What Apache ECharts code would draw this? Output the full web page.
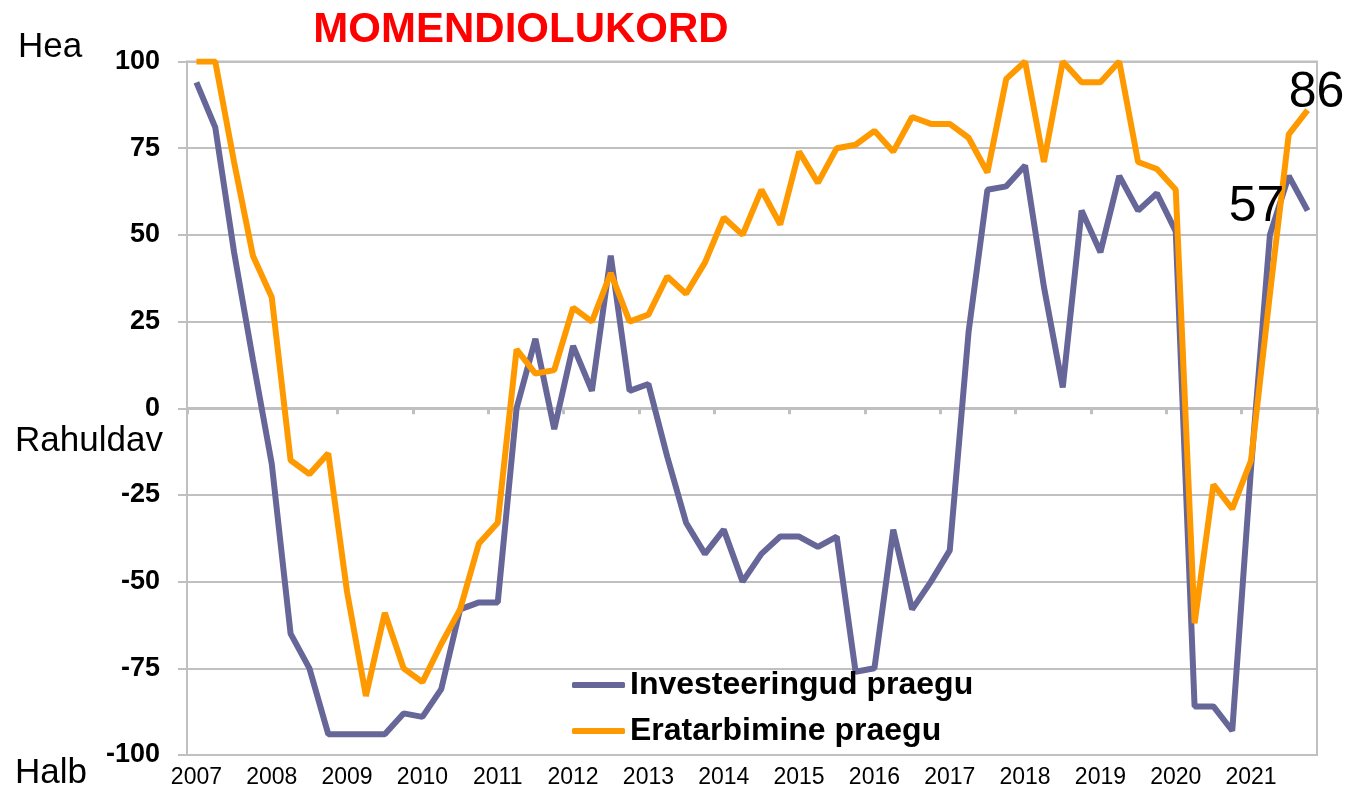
<!DOCTYPE html>
<html>
<head>
<meta charset="utf-8">
<script src="https://cdn.jsdelivr.net/npm/echarts@6/dist/echarts.min.js"></script>
<style>
  html, body { margin: 0; padding: 0; background: #fff; }
  #chart { width: 1346px; height: 796px; }
</style>
</head>
<body>
<div id="chart"></div>
<script>
// aastad, igal aastal 4 kvartalit
const years = ['2007', '2008', '2009', '2010', '2011', '2012', '2013', '2014',
  '2015', '2016', '2017', '2018', '2019', '2020', '2021'];
const quarters = [];
years.forEach(y => { for (let q = 1; q <= 4; q++) quarters.push(y + '-' + q); });

const yTicks = [-100, -75, -50, -25, 0, 25, 50, 75, 100];

// Investeeringud praegu
const investeeringud = [
  94, 81, 45, 14, -16, -65, -75, -94,
  -94, -94, -94, -88, -89, -81, -58, -56,
  -56, 0, 20, -6, 18, 5, 44, 5,
  7, -14, -33, -42, -35, -50, -42, -37,
  -37, -40, -37, -76, -75, -35, -58, -50,
  -41, 22, 63, 64, 70, 35, 6, 57,
  45, 67, 57, 62, 51, -86, -86, -93,
  -17, 50, 67, 57
];
// Eratarbimine praegu
const eratarbimine = [
  100, 100, 71, 44, 32, -15, -19, -13,
  -53, -83, -59, -75, -79, -68, -58, -39,
  -33, 17, 10, 11, 29, 25, 39, 25,
  27, 38, 33, 42, 55, 50, 63, 53,
  74, 65, 75, 76, 80, 74, 84, 82,
  82, 78, 68, 95, 100, 71, 100, 94,
  94, 100, 71, 69, 63, -62, -22, -29,
  -15, 33, 79, 86
];

const FONT = '"Liberation Sans", Arial, sans-serif';
const GRAY = '#c0c0c0';
const last = quarters.length - 1;

const chart = echarts.init(document.getElementById('chart'));

const bigLabel = (offset) => ({
  show: true,
  position: 'inside',
  offset: offset,
  formatter: '{c}',
  fontSize: 50,
  fontFamily: FONT,
  color: '#000'
});

const option = {
  animation: false,
  backgroundColor: '#fff',
  grid: {
    left: 187, right: 29, top: 61.5, bottom: 41,
    show: true, borderColor: GRAY, borderWidth: 2
  },
  legend: {
    orient: 'vertical',
    left: 567,
    top: 664,
    itemWidth: 53,
    itemHeight: 6,
    itemGap: 14,
    icon: 'roundRect',
    textStyle: { fontSize: 32, fontWeight: 'bold', fontFamily: FONT, color: '#000' },
    data: ['Investeeringud praegu', 'Eratarbimine praegu']
  },
  xAxis: [
    {
      type: 'category',
      data: quarters,
      boundaryGap: true,
      axisLine: { onZero: true, lineStyle: { color: GRAY, width: 3 } },
      axisTick: { show: true, interval: 3, length: 6, lineStyle: { color: GRAY, width: 3 } },
      axisLabel: { show: false },
      splitLine: { show: false }
    },
    {
      type: 'category',
      data: quarters,
      position: 'bottom',
      boundaryGap: true,
      axisLine: { show: false, onZero: false },
      axisTick: { show: false },
      axisLabel: {
        interval: 3,
        margin: 11,
        fontSize: 23,
        fontFamily: FONT,
        color: '#000',
        formatter: v => v.slice(0, 4)
      },
      splitLine: { show: false }
    }
  ],
  yAxis: {
    type: 'value',
    min: yTicks[0],
    max: yTicks[yTicks.length - 1],
    interval: 25,
    axisLine: { show: true, lineStyle: { color: GRAY, width: 2 } },
    axisTick: { show: true, length: 9, lineStyle: { color: GRAY, width: 2 } },
    axisLabel: { margin: 27, fontSize: 27, fontWeight: 'bold', fontFamily: FONT, color: '#000' },
    splitLine: { lineStyle: { color: GRAY, width: 2 } }
  },
  series: [
    {
      name: 'Investeeringud praegu',
      type: 'line',
      xAxisIndex: 0,
      data: investeeringud,
      showSymbol: false,
      symbol: 'none',
      color: '#666699',
      lineStyle: { width: 6, color: '#666699' },
      markPoint: {
        symbol: 'circle',
        symbolSize: 1,
        silent: true,
        itemStyle: { color: 'rgba(0,0,0,0)' },
        label: bigLabel([-51, -3]),
        data: [{ coord: [quarters[last], investeeringud[last]], value: investeeringud[last] }]
      }
    },
    {
      name: 'Eratarbimine praegu',
      type: 'line',
      xAxisIndex: 0,
      data: eratarbimine,
      showSymbol: false,
      symbol: 'none',
      color: '#FF9900',
      lineStyle: { width: 6, color: '#FF9900' },
      markPoint: {
        symbol: 'circle',
        symbolSize: 1,
        silent: true,
        itemStyle: { color: 'rgba(0,0,0,0)' },
        label: bigLabel([9, -17]),
        data: [{ coord: [quarters[last], eratarbimine[last]], value: eratarbimine[last] }]
      }
    }
  ],
  graphic: [
    {
      type: 'text', x: 521, y: 30,
      style: { text: 'MOMENDIOLUKORD', fill: '#FF0000', font: 'bold 42px ' + FONT, align: 'center', verticalAlign: 'middle' }
    },
    {
      type: 'text', x: 18, y: 47,
      style: { text: 'Hea', fill: '#000', font: '35px ' + FONT, align: 'left', verticalAlign: 'middle' }
    },
    {
      type: 'text', x: 15, y: 441,
      style: { text: 'Rahuldav', fill: '#000', font: '35px ' + FONT, align: 'left', verticalAlign: 'middle' }
    },
    {
      type: 'text', x: 15, y: 773,
      style: { text: 'Halb', fill: '#000', font: '35px ' + FONT, align: 'left', verticalAlign: 'middle' }
    }
  ]
};

chart.setOption(option);
</script>
</body>
</html>
